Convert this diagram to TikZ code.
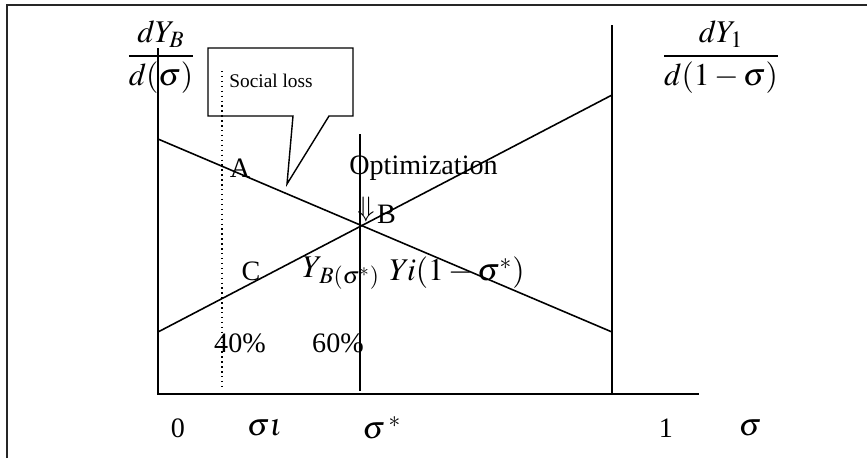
\documentclass[tikz,border=0pt]{standalone}
\usepackage{amsmath}
\usepackage{mathptmx}
\usepackage{fontspec}
\setmainfont{Liberation Serif}
\usetikzlibrary{positioning}

\begin{document}
\begin{tikzpicture}[
  x=0.02cm, y=-0.02cm,
  font=\fontsize{16}{18}\selectfont,
  frame/.style={line width=1.2pt, draw=black!85},
  axis/.style={line width=0.8pt, draw=black},
  curve/.style={line width=0.9pt, draw=black},
  guide/.style={line width=0.8pt, dotted, draw=black},
  callout/.style={line width=0.8pt, draw=black, line join=miter},
  lbl/.style={inner sep=0pt},
  mathlbl/.style={inner sep=0pt, font=\fontsize{18}{20}\selectfont},
  small/.style={inner sep=0pt, font=\fontsize{11}{13}\selectfont}
]
  \useasboundingbox (0,0) rectangle (867,458);

  % outer frame (left and top edges only visible)
  \coordinate (framebl) at (7,458);
  \coordinate (frametl) at (7,5);
  \coordinate (frametr) at (867,5);
  \draw[frame] (framebl) -- (frametl) -- (frametr);

  % axes
  \coordinate (origin) at (158,394);
  \coordinate (ytop) at (158,48);
  \coordinate (xend) at (699,394);
  \coordinate (rtop) at (612,25);
  \coordinate (rbot) at (612,394);
  \draw[axis] (ytop) -- (origin) -- (xend);
  \draw[axis] (rtop) -- (rbot);

  % optimum and social-loss markers
  \coordinate (startop) at (360,134);
  \coordinate (starbot) at (360,391);
  \coordinate (losstop) at (222,71);
  \coordinate (lossbot) at (222,388);
  \draw[axis] (startop) -- (starbot);
  \draw[guide] (losstop) -- (lossbot);

  % marginal curves
  \coordinate (bleft) at (158,139);
  \coordinate (bright) at (612,332);
  \coordinate (ileft) at (158,332);
  \coordinate (iright) at (612,95);
  \draw[curve] (bleft) -- (bright);
  \draw[curve] (ileft) -- (iright);

  % callout
  \draw[callout] (208,48) -- (353,48) -- (353,116) -- (329,116)
    -- (287,184) -- (293,116) -- (208,116) -- cycle;
  \node[small] (loss) at (271,81) {Social loss};

  % axis titles
  \node[mathlbl] (lefttitle) at (161,57) {$\dfrac{dY_B}{d(\sigma)}$};
  \node[mathlbl] (righttitle) at (721,57) {$\dfrac{dY_1}{d(1-\sigma)}$};

  % point labels
  \node[lbl] (ptA) at (240,168) {A};
  \node[lbl, anchor=west] (optim) at (349,168) {Optimization};
  \node[lbl] (arrowB) at (366,209) {$\Downarrow$};
  \node[lbl, right=1pt of arrowB, yshift=-3pt] (ptB) {B};
  \node[lbl] (ptC) at (251,271) {C};
  \node[mathlbl, anchor=west] (yb) at (302,273) {$Y_{\,B(\sigma^*)}$};
  \node[mathlbl, anchor=west] (yi) at (389,273) {$Yi(1-\sigma^*)$};
  \node[lbl] (pct40) at (240,343) {40\%};
  \node[lbl] (pct60) at (338,343) {60\%};

  % tick labels
  \node[lbl] (tick0) at (178,428) {0};
  \node[mathlbl] (ticksl) at (265,428) {$\sigma\iota$};
  \node[mathlbl] (tickstar) at (382,428) {$\sigma\,^*$};
  \node[lbl] (tick1) at (666,428) {1};
  \node[mathlbl] (ticksig) at (750,428) {$\sigma$};
\end{tikzpicture}
\end{document}
